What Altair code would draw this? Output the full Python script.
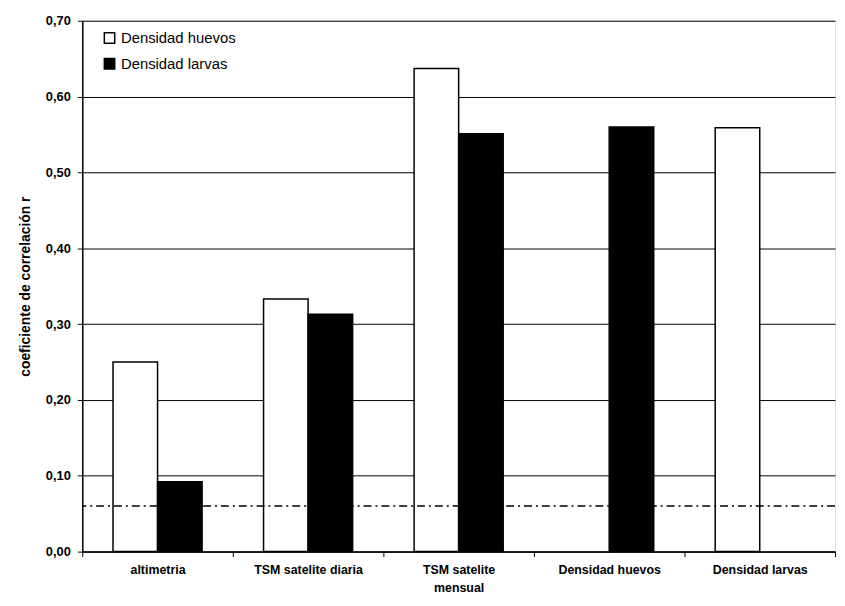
import altair as alt
import pandas as pd

categories = ["altimetria", "TSM satelite diaria", "TSM satelite mensual", "Densidad huevos", "Densidad larvas"]
series = ["Densidad huevos", "Densidad larvas"]
huevos = [0.250, 0.333, 0.637, None, 0.559]
larvas = [0.092, 0.313, 0.551, 0.560, None]
threshold = [0.06]

rows = []
for c, h, l in zip(categories, huevos, larvas):
    if h is not None:
        rows.append({"cat": c, "serie": series[0], "r": h})
    if l is not None:
        rows.append({"cat": c, "serie": series[1], "r": l})
df = pd.DataFrame(rows)
thr = pd.DataFrame({"y": threshold})

FONT = "Liberation Sans"

bars = alt.Chart(df).mark_bar(stroke="black", strokeWidth=1.5).encode(
    x=alt.X("cat:N", sort=categories, title=None,
            scale=alt.Scale(domain=categories, paddingInner=0, paddingOuter=0),
            axis=alt.Axis(labelAngle=0, labelFont=FONT, labelFontWeight="bold", labelFontSize=12.5,
                          labelColor="black", labelPadding=7, tickBand="extent", tickColor="black",
                          tickSize=5, domainColor="black", domainWidth=1.5, grid=False,
                          labelLineHeight=18,
                          labelExpr="datum.label == 'TSM satelite mensual' ? ['TSM satelite', 'mensual'] : datum.label")),
    xOffset=alt.XOffset("serie:N", sort=series,
                        scale=alt.Scale(domain=series, paddingInner=0, paddingOuter=0.69)),
    y=alt.Y("r:Q", title="coeficiente de correlación r",
            scale=alt.Scale(domain=[0, 0.7], nice=False),
            axis=alt.Axis(values=[0, 0.1, 0.2, 0.3, 0.4, 0.5, 0.6, 0.7],
                          labelExpr="replace(format(datum.value, '.2f'), '.', ',')",
                          labelFont=FONT, labelFontWeight="bold", labelFontSize=13, labelColor="black",
                          titleFont=FONT, titleFontWeight="bold", titleFontSize=14, titleColor="black",
                          titlePadding=13, tickColor="black", tickSize=5, domainColor="black",
                          domainWidth=1.5, grid=True, gridColor="black", gridWidth=1, labelPadding=7)),
    fill=alt.Fill("serie:N", sort=series,
                  scale=alt.Scale(domain=series, range=["white", "black"]),
                  legend=alt.Legend(title=None, orient="none", legendX=20, legendY=10,
                                    symbolType="square", symbolSize=110, symbolStrokeColor="black",
                                    symbolStrokeWidth=1.5, labelFont=FONT, labelFontSize=15,
                                    labelColor="black", rowPadding=9, labelOffset=4)),
)

rule = alt.Chart(thr).mark_rule(color="black", strokeWidth=1.5, strokeDash=[8, 4, 2, 4]).encode(
    y="y:Q"
)

chart = alt.layer(bars, rule).properties(
    width=760, height=536,
    autosize=alt.AutoSizeParams(type="none"),
    padding={"left": 75, "top": 10, "right": 2, "bottom": 44},
).configure_view(stroke=None).configure(background="white")

chart.save("out.html", embed_options={"renderer": "svg", "actions": False})
